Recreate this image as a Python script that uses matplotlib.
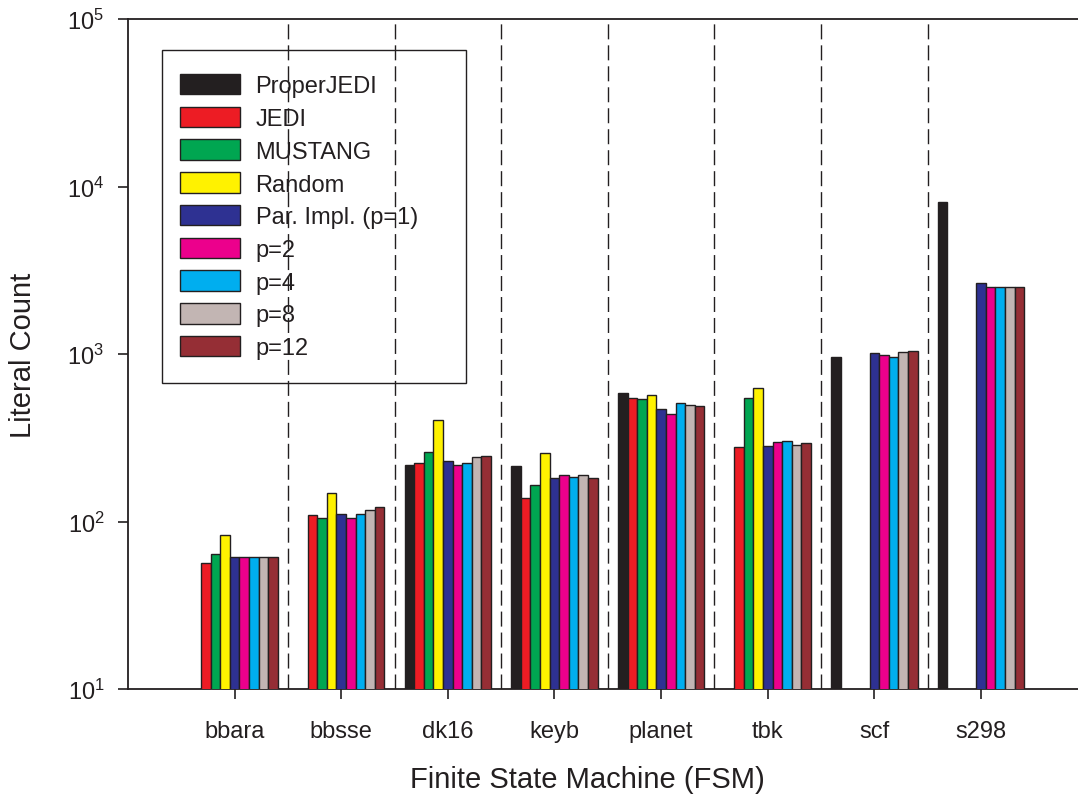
import numpy as np
import matplotlib.pyplot as plt
from matplotlib.patches import Rectangle

plt.rcParams['font.family'] = ['Liberation Sans', 'DejaVu Sans']
plt.rcParams['mathtext.fontset'] = 'custom'
plt.rcParams['mathtext.rm'] = 'Liberation Sans'

'''Data read off the chart'''
fsm = ['bbara', 'bbsse', 'dk16', 'keyb', 'planet', 'tbk', 'scf', 's298']
nan = np.nan
proper_jedi = [nan, nan, 218, 215, 582, nan, 955, 8070]
jedi = [56.5, 110, 224, 139, 546, 277, nan, nan]
mustang = [63.7, 105, 259, 166, 541, 546, nan, nan]
rand = [83.4, 147, 402, 255, 571, 624, nan, nan]
par_p1 = [61.4, 111, 230, 181, 471, 284, 1014, 2642]
par_p2 = [61.4, 104.5, 217, 190, 438, 297, 981, 2524]
par_p4 = [61.4, 111, 224, 185, 512, 301, 964, 2502]
par_p8 = [61.4, 117, 244, 189, 498, 288, 1028, 2524]
par_p12 = [61.4, 122, 247, 183, 491, 294, 1046, 2524]

series = [proper_jedi, jedi, mustang, rand, par_p1, par_p2, par_p4, par_p8, par_p12]
labels = ['ProperJEDI', 'JEDI', 'MUSTANG', 'Random', 'Par. Impl. (p=1)',
          'p=2', 'p=4', 'p=8', 'p=12']
colors = ['#231f20', '#ed1c24', '#00a651', '#fff200', '#2e3192',
          '#ec008c', '#00aeef', '#c2b5b3', '#952e35']
ytick_vals = [10, 100, 1000, 10000, 100000]
ytick_labels = [r'$\mathregular{10^{1}}$', r'$\mathregular{10^{2}}$', r'$\mathregular{10^{3}}$',
                r'$\mathregular{10^{4}}$', r'$\mathregular{10^{5}}$']

ink = '#231f20'

fig = plt.figure(figsize=(10.78, 8.03), dpi=100)
ax = fig.add_axes([128 / 1078, 1 - 690 / 803, 1 - 128 / 1078, 670 / 803])

x = np.arange(len(fsm))
w = 0.09
handles = []
for i, (vals, lab, col) in enumerate(zip(series, labels, colors)):
    b = ax.bar(x + (i - 4) * w, vals, width=w, color=col, edgecolor=ink,
               linewidth=1.0, label=lab, zorder=3)
    handles.append(b)

'''Dashed separators between FSM groups'''
for xs in x[:-1] + 0.5:
    ax.axvline(xs, color=ink, linewidth=1.0, dashes=(10.8, 4.3), zorder=1)

ax.set_yscale('log')
ax.set_ylim(10, 100000)
ax.set_xlim(-1, 7.91)
ax.set_yticks(ytick_vals)
ax.set_yticklabels(ytick_labels, fontsize=17, color=ink)
ax.yaxis.set_minor_locator(plt.NullLocator())
ax.set_xticks(x)
ax.set_xticklabels(fsm, fontsize=17, color=ink)
ax.tick_params(axis='y', direction='out', length=7, width=1.2, pad=10, color=ink)
ax.tick_params(axis='x', direction='out', length=7, width=1.2, pad=15, color=ink)

for s in ['left', 'bottom', 'top']:
    ax.spines[s].set_color(ink)
    ax.spines[s].set_linewidth(1.3)
ax.spines['right'].set_visible(False)

ax.set_xlabel('Finite State Machine (FSM)', fontsize=21, color=ink)
ax.xaxis.set_label_coords((587 - 128) / 950, -0.113)
ax.set_ylabel('Literal Count', fontsize=21, color=ink, labelpad=22)

'''Legend with a wider hand-drawn frame'''
leg = ax.legend(handles=handles, loc='upper left', frameon=False, fontsize=17,
                bbox_to_anchor=(180 / 1078, 1 - 75 / 803), bbox_transform=fig.transFigure,
                borderaxespad=0, borderpad=0, handlelength=2.55, handleheight=0.95,
                handletextpad=0.65, labelspacing=0.4)
for t in leg.get_texts():
    t.set_color(ink)
fig.patches.append(Rectangle((162 / 1078, 1 - 384 / 803), 304 / 1078, 333 / 803,
                             transform=fig.transFigure, fill=False, edgecolor=ink,
                             linewidth=1.0, zorder=5))

plt.savefig('out.png', dpi=100)
